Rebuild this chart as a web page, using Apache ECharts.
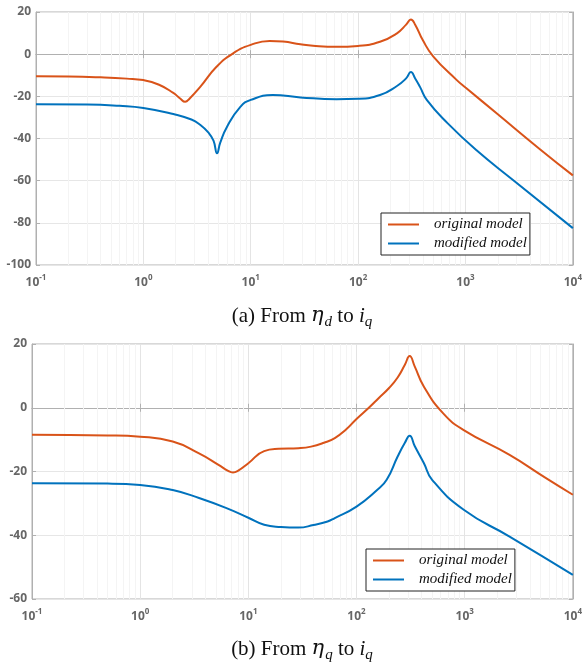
<!DOCTYPE html>
<html lang="en">
<head>
<meta charset="UTF-8">
<title>Bode magnitude: original vs modified model</title>
<script src="https://cdn.jsdelivr.net/npm/echarts@6/dist/echarts.min.js"></script>
<style>
  html, body { margin: 0; padding: 0; background: #fff; }
  #main { width: 585px; height: 668px; }
</style>
</head>
<body>
<div id="main"></div>
<script>
// (a) From eta_d to i_q  -- magnitude in dB vs frequency
var freqA_orig = [0.1, 0.2, 0.4, 0.7, 1, 1.4, 1.9, 2.2, 2.45, 2.7, 3.4, 4.8, 6.8, 10, 15, 20, 29, 38, 63, 100, 160, 230, 280, 310, 340, 400, 500, 830, 1000, 2000, 5000, 10000];
var magA_orig  = [-10.5, -10.6, -11.0, -11.6, -12.3, -14.5, -18.4, -21.0, -22.6, -21.0, -15.4, -6.0, 0.3, 4.4, 6.3, 6.0, 4.7, 4.0, 3.5, 3.9, 5.9, 9.9, 14.0, 16.5, 14.0, 6.7, -1.0, -12.3, -15.8, -28.5, -45.3, -57.5];

var freqA_mod = [0.1, 0.3, 0.6, 1, 1.9, 2.8, 3.4, 4.0, 4.5, 4.85, 5.2, 6.0, 8.0, 10, 16, 29, 63, 100, 160, 230, 280, 310, 340, 376, 436, 680, 1260, 2770, 10000];
var magA_mod  = [-23.8, -23.9, -24.5, -25.5, -28.4, -31.0, -33.6, -37.0, -41.0, -47.0, -42.0, -34.5, -25.0, -21.7, -19.4, -20.5, -21.4, -21.2, -19.4, -15.1, -11.5, -8.5, -11.5, -15.4, -21.7, -32.7, -45.5, -59.7, -82.5];

// (b) From eta_q to i_q
var freqB_orig = [0.1, 0.5, 1, 2, 3.5, 5.3, 6.5, 7.2, 8, 10, 14, 19, 29, 38, 50, 63, 80, 100, 130, 160, 200, 240, 280, 310, 345, 420, 630, 980, 2600, 5600, 10000];
var magB_orig  = [-8.5, -8.7, -9.1, -10.6, -14.3, -17.9, -19.8, -20.3, -19.8, -17.4, -13.6, -12.9, -12.7, -12.2, -11.0, -9.5, -6.8, -3.5, 0.0, 3.0, 6.2, 9.5, 13.5, 16.2, 13.0, 6.6, -1.7, -7.0, -14.8, -22.0, -27.3];

var freqB_mod = [0.1, 0.5, 1, 2, 3.5, 6.2, 10, 14, 20, 29, 40, 54, 63, 100, 155, 190, 240, 280, 310, 345, 420, 500, 980, 2600, 10000];
var magB_mod  = [-23.7, -23.8, -24.2, -25.8, -28.3, -31.4, -34.5, -36.7, -37.4, -37.6, -36.8, -35.7, -34.6, -31.0, -25.8, -22.6, -15.3, -11.0, -8.8, -12.0, -17.4, -22.6, -32.0, -40.4, -52.4];

var seriesNames = ['original model', 'modified model'];
var decades = [-1, 0, 1, 2, 3];     // minor grid 2..9 inside each decade
var captionA = '(a) From {eta|η}{sub|d} to {it|i}{sub|q}';
var captionB = '(b) From {eta|η}{sub|q} to {it|i}{sub|q}';

var ORANGE = '#D95319', BLUE = '#0072BD';
var labelColor = '#666';

function pairs(f, m) {
  return f.map(function (v, i) { return [v, m[i]]; });
}

var minorX = [];
decades.forEach(function (e) {
  for (var k = 2; k <= 9; k++) minorX.push({ xAxis: k * Math.pow(10, e) });
});

var chart = echarts.init(document.getElementById('main'));

function xAxes(gi) {
  return [{
    type: 'log', gridIndex: gi, min: 0.1, max: 10000, logBase: 10, splitNumber: 5,
    axisLine: { lineStyle: { color: '#b0b0b0' } },
    axisTick: { inside: true, length: 4, lineStyle: { color: '#b0b0b0' } },
    splitLine: { show: true, lineStyle: { color: '#e4e4e4' } },
    axisLabel: {
      margin: 9,
      formatter: function (v) {
        return '{b|10}{s|' + Math.round(Math.log10(v)) + '}';
      },
      rich: {
        b: { fontFamily: 'Open Sans', fontWeight: 'bold', fontSize: 12, color: labelColor, lineHeight: 18 },
        s: { fontFamily: 'Open Sans', fontWeight: 'bold', fontSize: 8, color: labelColor, lineHeight: 9, verticalAlign: 'top' }
      }
    }
  }, {
    type: 'log', gridIndex: gi, min: 0.1, max: 10000, logBase: 10, position: 'top',
    axisLine: { lineStyle: { color: '#b0b0b0' } },
    axisTick: { inside: true, length: 4, lineStyle: { color: '#b0b0b0' } },
    axisLabel: { show: false }, splitLine: { show: false }
  }];
}

function yAxes(gi, min) {
  return [{
    type: 'value', gridIndex: gi, min: min, max: 20, interval: 20,
    axisLine: { show: true, lineStyle: { color: '#b0b0b0' } },
    axisTick: { show: true, inside: true, length: 4, lineStyle: { color: '#b0b0b0' } },
    splitLine: { lineStyle: { color: '#e6e6e6' } },
    axisLabel: { margin: 5, fontFamily: 'Open Sans', fontWeight: 'bold', fontSize: 12, color: labelColor }
  }, {
    type: 'value', gridIndex: gi, min: min, max: 20, interval: 20, position: 'right',
    axisLine: { show: true, lineStyle: { color: '#b0b0b0' } },
    axisTick: { show: true, inside: true, length: 4, lineStyle: { color: '#b0b0b0' } },
    splitLine: { show: false }, axisLabel: { show: false }
  }];
}

function curve(name, color, data, xi, yi) {
  return {
    name: name, type: 'line', xAxisIndex: xi, yAxisIndex: yi,
    data: data, symbol: 'none', smooth: 0.5, z: 10,
    lineStyle: { color: color, width: 2 }, itemStyle: { color: color }
  };
}

function minorGrid(xi, yi) {
  return {
    type: 'line', xAxisIndex: xi, yAxisIndex: yi, data: [], z: 1, silent: true,
    markLine: {
      z: 1, silent: true, animation: false, symbol: ['none', 'none'], label: { show: false },
      lineStyle: { color: '#f4f4f4', width: 1, type: 'solid' },
      emphasis: { disabled: true },
      data: minorX
    }
  };
}

var legendBase = {
  data: seriesNames, orient: 'vertical',
  backgroundColor: '#fff', borderColor: '#222', borderWidth: 1, borderRadius: 0,
  padding: [4, 3, 4, 7], itemGap: 4, itemWidth: 31, itemHeight: 16,
  icon: 'path://M0,7 L31,7 L31,9 L0,9 Z',
  textStyle: { fontFamily: 'Liberation Serif', fontStyle: 'italic', fontSize: 15, color: '#111', padding: [0, 0, 0, 10] }
};

var captionRich = {
  eta: { fontFamily: 'DejaVu Serif', fontStyle: 'italic', fontSize: 21, lineHeight: 28, padding: [0, 1, 0, 0] },
  it: { fontFamily: 'Liberation Serif', fontStyle: 'italic', fontSize: 21, lineHeight: 28 },
  sub: { fontFamily: 'Liberation Serif', fontStyle: 'italic', fontSize: 15, lineHeight: 14, verticalAlign: 'bottom' }
};

chart.setOption({
  animation: false,
  backgroundColor: '#fff',
  grid: [
    { left: 36, right: 12, top: 12, height: 253, show: true, borderColor: '#b0b0b0', backgroundColor: '#fff' },
    { left: 32, right: 8, top: 344, height: 255, show: true, borderColor: '#b0b0b0', backgroundColor: '#fff' }
  ],
  xAxis: xAxes(0).concat(xAxes(1)),
  yAxis: yAxes(0, -100).concat(yAxes(1, -60)),
  legend: [
    Object.assign({}, legendBase, { left: 381, top: 213 }),
    Object.assign({}, legendBase, { left: 366, top: 549 })
  ],
  series: [
    minorGrid(0, 0),
    curve(seriesNames[0], ORANGE, pairs(freqA_orig, magA_orig), 0, 0),
    curve(seriesNames[1], BLUE, pairs(freqA_mod, magA_mod), 0, 0),
    minorGrid(2, 2),
    curve(seriesNames[0], ORANGE, pairs(freqB_orig, magB_orig), 2, 2),
    curve(seriesNames[1], BLUE, pairs(freqB_mod, magB_mod), 2, 2)
  ],
  graphic: [
    { type: 'text', x: 302, y: 316, style: { text: captionA, rich: captionRich, fontFamily: 'Liberation Serif', fontSize: 21, lineHeight: 28, fill: '#111', align: 'center', verticalAlign: 'middle' } },
    { type: 'text', x: 302, y: 649, style: { text: captionB, rich: captionRich, fontFamily: 'Liberation Serif', fontSize: 21, lineHeight: 28, fill: '#111', align: 'center', verticalAlign: 'middle' } }
  ]
});
</script>
</body>
</html>
